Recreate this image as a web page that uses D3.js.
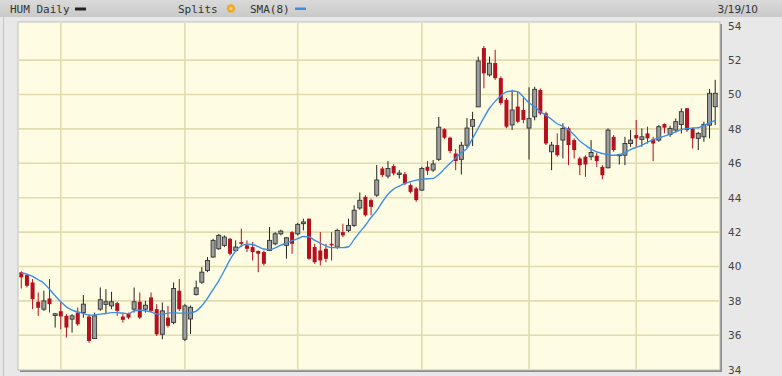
<!DOCTYPE html>
<html>
<head>
<meta charset="utf-8">
<script src="https://cdn.jsdelivr.net/npm/d3@7/dist/d3.min.js"></script>
<style>
  body { margin: 0; background: #e8e8e8; }
  svg { display: block; }
</style>
</head>
<body>
<div class="chart"></div>
<script>
// daily OHLC, 9/22/09 .. 3/19/10
var opens = [39.66,39.50,39.07,37.95,37.52,38.14,37.15,37.40,37.13,36.94,37.32,37.32,37.09,35.81,37.52,37.80,37.71,37.87,37.09,37.29,
  37.52,37.95,37.52,38.20,37.52,36.06,37.03,36.74,38.59,35.77,36.95,38.37,39.09,39.77,40.55,41.03,41.23,41.61,40.93,41.42,
  41.23,41.13,40.90,40.84,40.93,41.32,41.90,41.23,42.00,41.90,42.49,42.78,41.13,40.93,41.03,41.32,41.13,42.00,42.10,42.39,
  43.40,44.05,43.86,44.15,45.70,45.26,45.84,45.35,45.37,44.73,44.54,44.44,45.80,45.61,46.23,47.98,47.49,46.57,46.23,47.05,
  48.15,49.28,52.70,51.14,51.83,50.95,49.69,48.23,49.30,49.10,48.05,48.70,50.26,48.90,46.67,47.06,47.35,48.03,47.35,46.28,
  46.38,46.38,46.44,45.79,45.74,47.54,46.45,46.47,47.15,47.64,47.39,47.74,47.39,47.35,48.28,47.68,47.93,48.26,49.20,48.03,
  47.45,47.54,48.22,49.29];
var highs = [39.72,39.56,39.27,38.49,38.59,39.27,37.30,37.95,37.23,37.23,37.62,38.34,37.23,37.32,38.78,38.68,38.53,37.95,37.32,37.32,
  38.78,38.49,38.00,38.49,37.81,37.91,37.71,39.07,39.27,37.81,37.73,39.18,39.96,40.55,41.61,41.90,41.81,41.67,41.52,42.20,
  41.52,41.42,40.93,40.93,42.30,42.00,42.14,41.71,42.06,42.53,42.78,42.78,41.32,42.00,41.32,42.00,42.20,42.49,42.78,43.56,
  44.30,44.15,43.95,45.90,45.80,46.13,45.95,45.60,45.50,44.83,44.63,45.80,46.13,46.19,48.70,48.04,47.55,46.83,47.25,48.63,
  48.99,52.20,52.82,52.20,52.60,51.05,49.80,50.27,50.17,49.80,50.42,50.45,50.35,49.00,47.25,47.74,48.32,48.13,47.45,46.38,
  46.47,47.35,46.63,45.89,48.03,47.64,46.55,47.54,47.93,48.52,48.03,48.13,47.54,48.22,48.32,48.19,48.61,49.20,49.20,48.07,
  47.83,48.42,50.32,50.85];
var lows = [38.72,38.78,37.52,37.13,37.42,37.32,36.45,36.35,35.87,36.16,36.55,37.03,35.57,35.80,37.42,37.23,37.52,37.13,36.74,36.94,
  37.32,36.94,37.32,37.32,35.96,35.77,36.45,36.64,37.42,35.67,36.08,38.31,38.99,39.67,40.51,40.97,41.13,40.64,40.84,41.13,
  40.84,40.35,39.67,40.06,40.90,41.23,41.81,40.45,40.74,41.81,42.10,40.39,40.16,40.06,40.25,40.35,41.03,41.71,42.00,42.30,
  43.30,42.90,42.98,44.05,45.20,45.12,45.30,45.12,44.73,44.25,43.76,44.40,45.32,45.50,46.13,47.40,46.58,45.60,45.35,46.90,
  47.00,49.28,50.36,51.04,50.85,49.40,48.04,47.94,48.33,48.33,46.22,48.50,48.80,47.06,45.60,46.38,46.28,45.89,46.28,45.31,
  45.21,46.18,45.79,45.07,45.70,46.67,45.93,45.89,46.96,46.96,46.96,47.15,46.13,47.25,47.74,47.54,47.80,47.74,47.83,46.86,
  46.77,47.25,47.45,48.22];
var closes = [39.37,38.88,38.10,37.60,38.00,37.81,37.25,37.10,36.45,37.13,36.64,37.81,35.67,37.13,38.07,37.95,37.95,37.42,36.90,37.03,
  37.95,37.03,37.75,37.42,36.06,37.42,36.55,38.72,37.52,37.71,37.63,38.76,39.67,40.35,41.52,41.81,41.71,40.74,41.13,41.32,
  41.03,40.84,40.74,40.16,41.52,41.90,42.06,41.67,41.32,42.45,42.59,40.45,40.25,40.35,40.45,41.23,42.10,41.81,42.39,43.27,
  43.85,42.98,43.47,45.03,45.32,45.70,45.41,45.43,44.83,44.34,43.86,45.70,45.57,45.96,48.10,47.49,46.72,46.13,47.05,48.05,
  48.54,51.95,51.23,51.82,50.95,49.50,48.13,49.10,48.42,48.52,48.60,50.30,48.90,47.15,47.06,46.47,48.03,47.06,46.77,45.89,
  45.93,46.63,46.13,45.31,47.93,46.77,46.50,47.15,47.35,47.45,47.54,47.45,47.15,48.13,48.07,48.03,48.42,49.00,47.93,47.45,
  47.74,48.26,50.07,50.07];
// SMA(8) as drawn on the chart
var sma8 = [39.62,39.56,39.42,39.23,39.03,38.68,38.30,37.95,37.65,37.46,37.36,37.27,37.17,37.19,37.23,37.27,37.32,37.32,37.29,37.25,
  37.42,37.46,37.42,37.36,37.23,37.23,37.29,37.32,37.29,37.29,37.30,37.40,37.72,38.15,38.67,39.17,39.77,40.40,40.90,41.20,
  41.30,41.28,41.15,41.02,40.98,41.08,41.24,41.36,41.50,41.62,41.74,41.72,41.52,41.36,41.20,41.10,41.10,41.10,41.15,41.58,
  42.00,42.40,42.85,43.25,43.75,44.20,44.50,44.67,44.83,44.93,45.02,45.07,45.10,45.12,45.35,45.68,46.00,46.30,46.62,46.87,
  47.45,48.05,48.65,49.20,49.60,49.93,50.15,50.20,50.17,49.85,49.52,49.28,49.00,48.80,48.55,48.30,48.15,47.95,47.65,47.30,
  47.05,46.82,46.66,46.57,46.50,46.47,46.50,46.62,46.80,46.93,47.06,47.22,47.38,47.48,47.58,47.70,47.83,47.96,48.02,48.05,
  48.07,48.20,48.35,48.50];
// first trading day of Oct, Nov, Dec, Jan, Feb, Mar
var monthStarts = [7, 29, 49, 71, 90, 109];
var yTicks = [34, 36, 38, 40, 42, 44, 46, 48, 50, 52, 54];

var W = 782, H = 376;
var plot = { left: 18, right: 720, top: 22, bottom: 370 };

var svg = d3.select('.chart').append('svg')
  .attr('width', W).attr('height', H);

// header bar
var grad = svg.append('defs').append('linearGradient')
  .attr('id', 'hdr').attr('x1', 0).attr('y1', 0).attr('x2', 0).attr('y2', 1);
grad.append('stop').attr('offset', '0%').attr('stop-color', '#dadada');
grad.append('stop').attr('offset', '100%').attr('stop-color', '#c9c9c9');
svg.append('rect').attr('x', 0).attr('y', 0).attr('width', W).attr('height', 17)
  .attr('fill', 'url(#hdr)');
svg.append('line').attr('x1', 3.5).attr('x2', 3.5).attr('y1', 17).attr('y2', H)
  .attr('stroke', '#c4c4c4');

var hdrFont = '"DejaVu Sans Mono", monospace';
svg.append('text').attr('x', 10).attr('y', 12.5).text('HUM Daily')
  .style('font-family', hdrFont).style('font-size', '11px').attr('fill', '#333');
svg.append('rect').attr('x', 75).attr('y', 7.5).attr('width', 11).attr('height', 3).attr('fill', '#222');
svg.append('text').attr('x', 178).attr('y', 12.5).text('Splits')
  .style('font-family', hdrFont).style('font-size', '11px').attr('fill', '#333');
svg.append('circle').attr('cx', 231).attr('cy', 8.5).attr('r', 4.2).attr('fill', '#efaa2a');
svg.append('circle').attr('cx', 231).attr('cy', 8.5).attr('r', 1.6).attr('fill', '#f8d27a');
svg.append('text').attr('x', 250).attr('y', 12.5).text('SMA(8)')
  .style('font-family', hdrFont).style('font-size', '11px').attr('fill', '#333');
svg.append('rect').attr('x', 295).attr('y', 7.5).attr('width', 11).attr('height', 2.5).attr('fill', '#3a8ee8');
svg.append('text').attr('x', 758).attr('y', 12.5).attr('text-anchor', 'end').text('3/19/10')
  .style('font-family', '"DejaVu Sans", sans-serif').style('font-size', '10.5px').attr('fill', '#333');

// plot frame + shadow
svg.append('rect').attr('x', plot.left + 2).attr('y', plot.top + 2)
  .attr('width', plot.right - plot.left).attr('height', plot.bottom - plot.top)
  .attr('fill', '#8c8c8c');
svg.append('rect').attr('x', plot.left).attr('y', plot.top)
  .attr('width', plot.right - plot.left).attr('height', plot.bottom - plot.top)
  .attr('fill', '#fefde4').attr('stroke', '#bdbdbd');

var xScale = d3.scalePoint()
  .domain(d3.range(closes.length))
  .range([21.3, 715.2]);

var yScale = d3.scaleLinear()
  .domain([34, 54])
  .range([369.7, 25.7]);

// grid
var g = svg.append('g');
g.selectAll('.hgrid').data(yTicks.slice(1, -1)).enter().append('line')
  .attr('x1', plot.left + 1).attr('x2', plot.right - 1)
  .attr('y1', d => yScale(d)).attr('y2', d => yScale(d))
  .attr('stroke', '#e0dcae').attr('stroke-width', 1.6);
g.selectAll('.vgrid').data(monthStarts).enter().append('line')
  .attr('x1', d => xScale(d)).attr('x2', d => xScale(d))
  .attr('y1', plot.top + 1).attr('y2', plot.bottom - 1)
  .attr('stroke', '#e0dcae').attr('stroke-width', 1.6);

// y axis on the right
var yAxis = d3.axisRight(yScale).tickValues(yTicks).tickSize(0).tickPadding(8);
var ax = svg.append('g').attr('transform', 'translate(' + plot.right + ',0)').call(yAxis);
ax.select('.domain').remove();
ax.selectAll('text')
  .style('font-family', '"DejaVu Sans", sans-serif').style('font-size', '10.5px').attr('fill', '#444');

// candles
var RED = '#b4101e';
var candles = svg.append('g').selectAll('g').data(closes).enter().append('g');
candles.append('line')
  .attr('x1', (d, i) => xScale(i)).attr('x2', (d, i) => xScale(i))
  .attr('y1', (d, i) => yScale(highs[i])).attr('y2', (d, i) => yScale(lows[i]))
  .attr('stroke', (d, i) => closes[i] < opens[i] ? RED : '#222')
  .attr('stroke-width', 1);
candles.append('rect')
  .attr('x', (d, i) => xScale(i) - 2)
  .attr('width', 4)
  .attr('y', (d, i) => yScale(Math.max(opens[i], closes[i])))
  .attr('height', (d, i) => Math.max(1, Math.abs(yScale(opens[i]) - yScale(closes[i]))))
  .attr('fill', (d, i) => closes[i] < opens[i] ? RED : '#9d9d9d')
  .attr('stroke', (d, i) => closes[i] < opens[i] ? RED : '#333')
  .attr('stroke-width', (d, i) => closes[i] < opens[i] ? 0 : 0.9);

// SMA line
var line = d3.line()
  .x((d, i) => xScale(i))
  .y(d => yScale(d))
  .curve(d3.curveMonotoneX);
svg.append('path').datum(sma8)
  .attr('d', line)
  .attr('fill', 'none')
  .attr('stroke', '#3d8fe6')
  .attr('stroke-width', 1.4);
</script>
</body>
</html>
